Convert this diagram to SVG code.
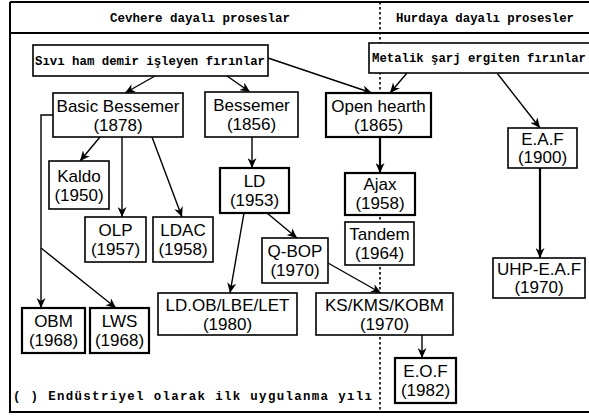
<svg xmlns="http://www.w3.org/2000/svg" width="589" height="418" viewBox="0 0 589 418">
<defs>
<style>
.frame{fill:none;stroke:#000;stroke-width:2}
.div{fill:none;stroke:#000;stroke-width:1.6;stroke-dasharray:2.5 2.5}
.box{fill:#fff;stroke:#000;stroke-width:1.6}
.thick{stroke-width:2.2}
.lbl{font-family:"Liberation Sans",Arial,sans-serif;font-size:17px;text-anchor:middle;fill:#000}
.mono{font-family:"Liberation Mono","DejaVu Sans Mono",monospace;font-size:12.4px;font-weight:bold;fill:#000}
.con path{fill:none;stroke:#000;stroke-width:1.4}
.con path.arr{marker-end:url(#ah)}
.con path.hv{stroke-width:2.2}
</style>
<marker id="ah" markerUnits="userSpaceOnUse" markerWidth="10" markerHeight="9" refX="10" refY="4.5" orient="auto">
<path d="M0,0 L10,4.5 L0,9 L3,4.5 z" fill="#000"/>
</marker>
</defs>
<rect width="589" height="418" fill="#fff"/>
<g id="frame">
<path class="frame" d="M10,2 H589 M10,33 H589 M10,2 V412 H589"/>
<path class="div" d="M380,2 V412"/>
<text class="mono" x="110" y="22" textLength="180" lengthAdjust="spacingAndGlyphs">Cevhere dayalı proseslar</text>
<text class="mono" x="396" y="22" textLength="178" lengthAdjust="spacingAndGlyphs">Hurdaya dayalı prosesler</text>
<text class="mono" x="13" y="400" textLength="359" lengthAdjust="spacing">( ) Endüstriyel olarak ilk uygulanma yılı</text>
</g>
<g id="connectors" class="con">
<path class="arr" d="M155,76 L125,93"/>
<path class="arr" d="M227,76 L250,92"/>
<path class="arr" d="M268,58 L372,93"/>
<path class="arr" d="M407,73 L390,93"/>
<path class="arr" d="M497,73 L540,128"/>
<path class="arr hv" d="M540,168 L540,258"/>
<path class="arr" d="M100,137 L80,161"/>
<path class="arr" d="M122,137 L122,217"/>
<path class="arr" d="M152,137 L182,217"/>
<path class="arr" d="M53,115 L41,115 L41,308"/>
<path class="arr" d="M41,248 L116,308"/>
<path class="arr" d="M252,137 L252,168"/>
<path class="arr" d="M244,213 L230,293"/>
<path class="arr" d="M267,213 L297,238"/>
<path class="arr" d="M328,263 L381,293"/>
<path class="arr hv" d="M380,137 L380,173"/>
<path class="arr" d="M422,335 L422,358"/>
</g>
<g id="sivi"><rect class="box" x="33" y="45" width="235" height="31"/><text class="mono" x="35" y="65" textLength="230" lengthAdjust="spacingAndGlyphs">Sıvı ham demir işleyen fırınlar</text></g>
<g id="metalik"><rect class="box" x="369" y="43" width="222" height="30"/><text class="mono" x="372" y="62" textLength="214" lengthAdjust="spacingAndGlyphs">Metalik şarj ergiten fırınlar</text></g>
<g id="basic"><rect class="box" x="53" y="93" width="130" height="44"/><text class="lbl" x="118" y="112">Basic Bessemer</text><text class="lbl" x="118" y="131">(1878)</text></g>
<g id="bessemer"><rect class="box" x="205" y="92" width="93" height="45"/><text class="lbl" x="251.5" y="111">Bessemer</text><text class="lbl" x="251.5" y="130">(1856)</text></g>
<g id="openhearth"><rect class="box thick" x="326" y="93" width="105" height="44"/><text class="lbl" x="378.5" y="112">Open hearth</text><text class="lbl" x="378.5" y="131">(1865)</text></g>
<g id="eaf"><rect class="box" x="508" y="128" width="69" height="40"/><text class="lbl" x="542.5" y="145">E.A.F</text><text class="lbl" x="542.5" y="163">(1900)</text></g>
<g id="kaldo"><rect class="box" x="49" y="161" width="60" height="48"/><text class="lbl" x="79" y="182">Kaldo</text><text class="lbl" x="79" y="201">(1950)</text></g>
<g id="olp"><rect class="box" x="85" y="217" width="61" height="45"/><text class="lbl" x="115.5" y="236">OLP</text><text class="lbl" x="115.5" y="255">(1957)</text></g>
<g id="ldac"><rect class="box" x="153" y="217" width="60" height="45"/><text class="lbl" x="183" y="236">LDAC</text><text class="lbl" x="183" y="255">(1958)</text></g>
<g id="ld"><rect class="box thick" x="220" y="168" width="69" height="45"/><text class="lbl" x="254.5" y="187">LD</text><text class="lbl" x="254.5" y="206">(1953)</text></g>
<g id="qbop"><rect class="box" x="262" y="238" width="66" height="45"/><text class="lbl" x="295" y="257">Q-BOP</text><text class="lbl" x="295" y="276">(1970)</text></g>
<g id="ajax"><rect class="box thick" x="345" y="173" width="70" height="42"/><text class="lbl" x="380" y="190">Ajax</text><text class="lbl" x="380" y="209">(1958)</text></g>
<g id="tandem"><rect class="box" x="345" y="222" width="69" height="43"/><text class="lbl" x="379.5" y="240">Tandem</text><text class="lbl" x="379.5" y="259">(1964)</text></g>
<g id="uhp"><rect class="box" x="493" y="258" width="92" height="40"/><text class="lbl" x="539" y="275">UHP-E.A.F</text><text class="lbl" x="539" y="293">(1970)</text></g>
<g id="obm"><rect class="box thick" x="22" y="308" width="63" height="45"/><text class="lbl" x="53.5" y="327">OBM</text><text class="lbl" x="53.5" y="346">(1968)</text></g>
<g id="lws"><rect class="box thick" x="90" y="308" width="59" height="45"/><text class="lbl" x="119.5" y="327">LWS</text><text class="lbl" x="119.5" y="346">(1968)</text></g>
<g id="ldob"><rect class="box" x="158" y="293" width="139" height="42"/><text class="lbl" x="227.5" y="311">LD.OB/LBE/LET</text><text class="lbl" x="227.5" y="330">(1980)</text></g>
<g id="ks"><rect class="box" x="316" y="293" width="137" height="42"/><text class="lbl" x="384.5" y="311">KS/KMS/KOBM</text><text class="lbl" x="384.5" y="330">(1970)</text></g>
<g id="eof"><rect class="box thick" x="395" y="358" width="61" height="45"/><text class="lbl" x="425.5" y="377">E.O.F</text><text class="lbl" x="425.5" y="396">(1982)</text></g>
</svg>
